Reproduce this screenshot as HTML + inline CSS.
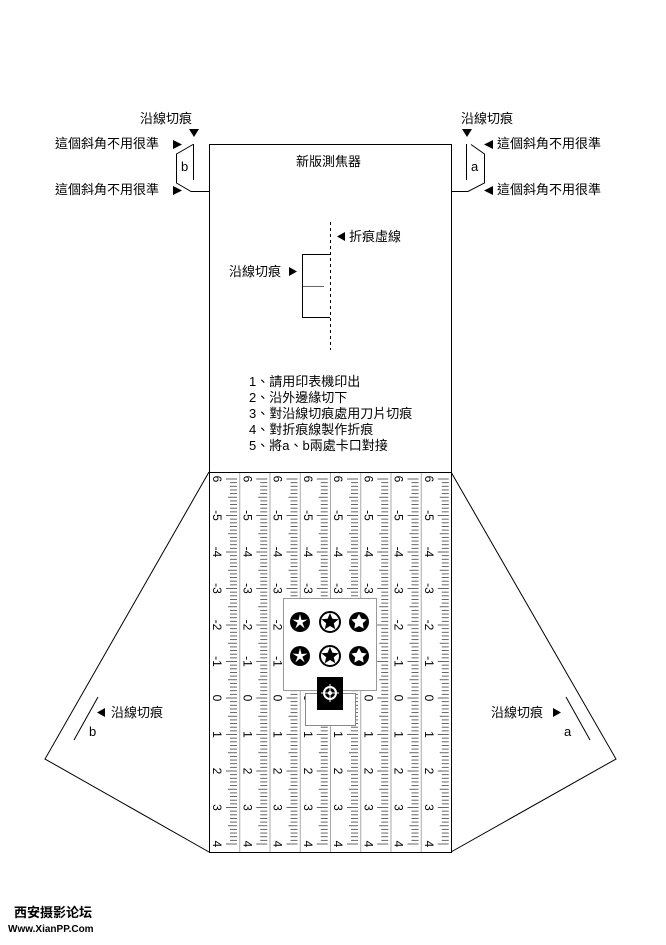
<!DOCTYPE html>
<html><head><meta charset="utf-8"><style>
body{margin:0;background:#fff}
svg text{font-family:"Liberation Sans","Noto Sans CJK TC",sans-serif;font-size:13px;fill:#000}
</style></head><body>
<svg id="s" width="666" height="940" xmlns="http://www.w3.org/2000/svg">
<g fill="none" stroke="#000" stroke-width="1">
<rect x="209.5" y="144.5" width="242" height="708"/>
<line x1="209" y1="472.5" x2="451" y2="472.5"/>
<polyline points="193,144.5 176.5,154 176.5,183 191,191.5 209,191.5"/>
<line x1="193.5" y1="144" x2="193.5" y2="180"/>
<polyline points="471,144.5 484.5,154 484.5,183 468,191.5 451,191.5"/>
<line x1="466.5" y1="144" x2="466.5" y2="180"/>
<polyline points="209,472 45,759 209,852"/>
<polyline points="451,472 616,759 451,852"/>
<line x1="98" y1="697" x2="74" y2="740"/>
<line x1="566" y1="697" x2="590" y2="740"/>
<line x1="330.5" y1="222" x2="330.5" y2="350" stroke-dasharray="3,3"/>
<polyline points="330,254.5 302.5,254.5 302.5,317.5 330,317.5"/>
<line x1="303" y1="286.5" x2="324" y2="286.5" stroke="#666"/>
</g>
<g id="ruler"></g>
<rect x="283.5" y="598.5" width="93" height="92" fill="#fff" stroke="#999"/>
<rect x="305.5" y="693.5" width="50" height="32" fill="#fff" stroke="#888"/>
<g id="stars"></g>
<rect x="317" y="677" width="26" height="33" fill="#000"/>
<circle cx="330" cy="693" r="6" fill="none" stroke="#fff" stroke-width="2"/>
<circle cx="330" cy="693" r="2" fill="#fff"/>
<line x1="330" y1="684" x2="330" y2="702" stroke="#fff"/>
<line x1="321" y1="693" x2="339" y2="693" stroke="#fff"/>
<g>
<text x="140" y="123">沿線切痕</text>
<text x="461" y="123">沿線切痕</text>
<polygon points="189,129 199,129 194,137" fill="#000"/>
<polygon points="462,129 472,129 467,137" fill="#000"/>
<text x="55" y="148">這個斜角不用很準</text>
<text x="55" y="194">這個斜角不用很準</text>
<polygon points="173,140 182,144.5 173,149" fill="#000"/>
<polygon points="173,186 182,190.5 173,195" fill="#000"/>
<text x="497" y="148">這個斜角不用很準</text>
<text x="497" y="194">這個斜角不用很準</text>
<polygon points="493,140 484,144.5 493,149" fill="#000"/>
<polygon points="493,186 484,190.5 493,195" fill="#000"/>
<text x="181" y="171">b</text>
<text x="471" y="171">a</text>
<text x="296" y="166">新版測焦器</text>
<polygon points="345,232 345,241 337,236.5" fill="#000"/>
<text x="349" y="241">折痕虛線</text>
<text x="229" y="276">沿線切痕</text>
<polygon points="289,267 289,276 297,271.5" fill="#000"/>
<text x="249" y="386">1、請用印表機印出</text>
<text x="249" y="402">2、沿外邊緣切下</text>
<text x="249" y="418">3、對沿線切痕處用刀片切痕</text>
<text x="249" y="434">4、對折痕線製作折痕</text>
<text x="249" y="450">5、將a、b兩處卡口對接</text>
<polygon points="105,708 105,717 97,712.5" fill="#000"/>
<text x="111" y="717">沿線切痕</text>
<text x="89" y="736">b</text>
<text x="491" y="717">沿線切痕</text>
<polygon points="553,708 553,717 561,712.5" fill="#000"/>
<text x="564" y="736">a</text>
<text x="14" y="917" style="font-size:13px;font-weight:bold">西安摄影论坛</text>
<text x="8" y="932" style="font-size:10px;font-weight:bold">Www.XianPP.Com</text>
</g>
</svg>
<script>
var r=document.getElementById("ruler"),h="";
var labels=["6","-5","-4","-3","-2","-1","0","1","2","3","4"];
for(var k=0;k<8;k++){var x0=209+k*30.25;
 if(k>0)h+='<line x1="'+(x0+0.5)+'" y1="473" x2="'+(x0+0.5)+'" y2="852" stroke="#aaa"/>';
 for(var i=0;i<=100;i++){var y=479+i*3.65;if(y>851)break;var len=(i%10==0)?11:(i%5==0?9:7);
  h+='<line x1="'+(x0+28-len)+'" y1="'+y+'" x2="'+(x0+28)+'" y2="'+y+'" stroke="#555" stroke-width="0.9"/>';}
 for(var j=0;j<labels.length;j++){var y=479+j*36.5;
  h+='<text transform="translate('+(x0+4)+','+y+') rotate(90)" style="font-size:12px" text-anchor="middle">'+labels[j]+'</text>';}
}
r.innerHTML=h;
var st=document.getElementById("stars"),sh="";
var cx=[300,330,359],cy=[622,656];
function star(x,y,R,ri){var p=[];for(var i=0;i<10;i++){var a=-Math.PI/2+i*Math.PI/5,rr=i%2?ri:R;p.push((x+rr*Math.cos(a)).toFixed(1)+","+(y+rr*Math.sin(a)).toFixed(1));}return p.join(" ");}
for(var a=0;a<2;a++)for(var b=0;b<3;b++){var x=cx[b],y=cy[a];
 if(b==1){sh+='<circle cx="'+x+'" cy="'+y+'" r="10" fill="#fff" stroke="#000" stroke-width="2"/><polygon points="'+star(x,y,9,4)+'" fill="#000"/>';}
 else{sh+='<circle cx="'+x+'" cy="'+y+'" r="10" fill="#000"/><polygon points="'+star(x,y,8,(b==0?2.5:4))+'" fill="#fff"/>';}}
st.innerHTML=sh;
</script>
</body></html>
